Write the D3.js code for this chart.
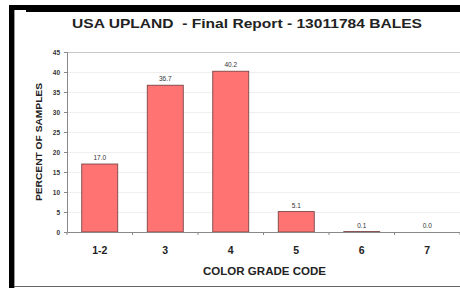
<!DOCTYPE html>
<html><head><meta charset="utf-8">
<script src="https://cdn.jsdelivr.net/npm/d3@7"></script>
<style>body{margin:0;background:#fff}svg{display:block}</style>
</head><body>
<script>
const categories = ["1-2","3","4","5","6","7"];
const values = [17.0, 36.7, 40.2, 5.1, 0.1, 0.0];
const valueLabels = ["17.0","36.7","40.2","5.1","0.1","0.0"];
const yTicks = [0,5,10,15,20,25,30,35,40,45];
const title = "USA UPLAND  - Final Report - 13011784 BALES";
const xTitle = "COLOR GRADE CODE";
const yTitle = "PERCENT OF SAMPLES";

const W = 460, H = 288;
const svg = d3.select("body").append("svg").attr("width", W).attr("height", H);
const font = "'Liberation Sans', Arial, sans-serif";

// frame
svg.append("rect").attr("x",0).attr("y",0).attr("width",W).attr("height",H).attr("fill","#fff");
svg.append("rect").attr("x",9).attr("y",5).attr("width",W-9).attr("height",7).attr("fill","#000");
svg.append("rect").attr("x",9).attr("y",5).attr("width",5).attr("height",H-5).attr("fill","#000");
svg.append("rect").attr("x",14).attr("y",10).attr("width",12).attr("height",3).attr("fill","#fff");
svg.append("line").attr("x1",14.5).attr("x2",14.5).attr("y1",10).attr("y2",H).attr("stroke","#999");
svg.append("line").attr("x1",14).attr("x2",W).attr("y1",286.5).attr("y2",286.5).attr("stroke","#666");

const x = d3.scaleBand().domain(categories).range([67, 460]).paddingInner(0.45).paddingOuter(0.225);
const y = d3.scaleLinear().domain([0,45]).range([232, 52]);

// gridlines
svg.append("g").selectAll("line").data(yTicks.filter(d=>d>0)).join("line")
  .attr("x1",67).attr("x2",460).attr("y1",d=>Math.round(y(d))+0.5).attr("y2",d=>Math.round(y(d))+0.5)
  .attr("stroke",d=>d===45?"#c8c8c8":"#efefef").attr("stroke-width",1);

// bars
svg.append("g").selectAll("rect").data(values).join("rect")
  .attr("x",(d,i)=>x(categories[i])).attr("width",x.bandwidth())
  .attr("y",d=>y(d)).attr("height",d=>y(0)-y(d))
  .attr("fill","#ff7373").attr("stroke","#6a3a3a").attr("stroke-width",0.8);

// value labels
svg.append("g").selectAll("text").data(values).join("text")
  .attr("x",(d,i)=>x(categories[i])+x.bandwidth()/2).attr("y",d=>y(d)-4)
  .attr("text-anchor","middle").attr("font-family",font).attr("font-size",6.5)
  .attr("fill","#333").text((d,i)=>valueLabels[i]);

// y axis
const yAxis = svg.append("g").attr("transform","translate(67,0)")
  .call(d3.axisLeft(y).tickValues(yTicks).tickSize(3).tickPadding(4));
yAxis.select(".domain").attr("stroke","#888");
yAxis.selectAll(".tick line").attr("stroke","#888");
yAxis.selectAll("text").attr("font-family",font).attr("font-size",6.5).attr("font-weight","bold").attr("fill","#333");

// x axis
const xAxis = svg.append("g").attr("transform","translate(0,232)")
  .call(d3.axisBottom(x).tickSize(0).tickPadding(15));
xAxis.select(".domain").attr("stroke","#888");
xAxis.selectAll("text").attr("font-family",font).attr("font-size",10.5).attr("font-weight","bold").attr("fill","#222");
// category boundary ticks
const bounds = d3.range(categories.length+1).map(i=>67 + i*(460-67)/categories.length);
svg.append("g").selectAll("line").data(bounds).join("line")
  .attr("x1",d=>d).attr("x2",d=>d).attr("y1",232).attr("y2",235).attr("stroke","#888");

// titles
svg.append("text").attr("x",247).attr("y",28).attr("text-anchor","middle")
  .style("white-space","pre")
  .attr("textLength",350).attr("lengthAdjust","spacingAndGlyphs")
  .attr("font-family",font).attr("font-weight","bold").attr("font-size",12.5).attr("fill","#222").text(title);
svg.append("text").attr("x",264.5).attr("y",275).attr("text-anchor","middle")
  .attr("textLength",123).attr("lengthAdjust","spacingAndGlyphs")
  .attr("font-family",font).attr("font-weight","bold").attr("font-size",10.5).attr("fill","#222").text(xTitle);
svg.append("text").attr("transform","translate(42,142) rotate(-90)").attr("text-anchor","middle")
  .attr("textLength",118).attr("lengthAdjust","spacingAndGlyphs")
  .attr("font-family",font).attr("font-weight","bold").attr("font-size",9.5).attr("fill","#222").text(yTitle);
</script>
</body></html>
